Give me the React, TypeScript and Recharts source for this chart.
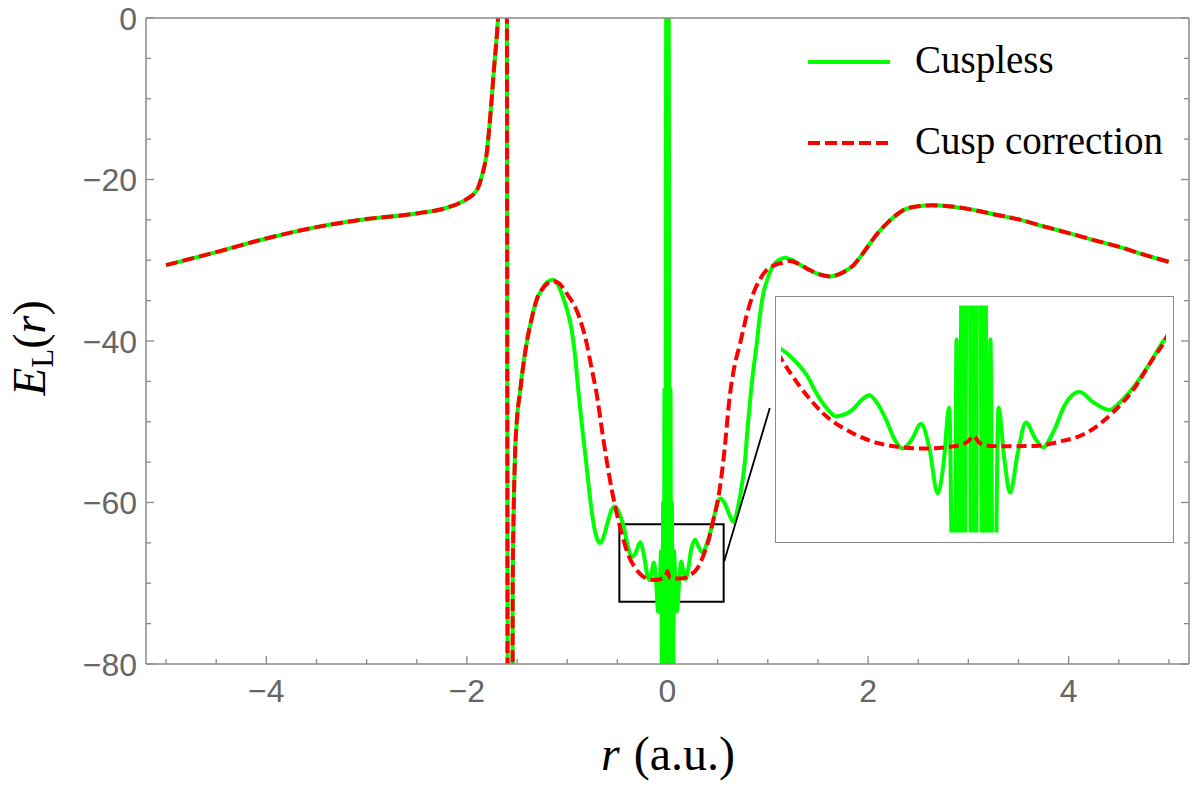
import React from 'react';
import { LineChart, Line, XAxis, YAxis, ReferenceArea, ReferenceLine } from 'recharts';

// Shared left branch (both curves coincide), r in a.u., E_L in hartree
const leftR = [-5.0, -4.5, -4.0, -3.5, -3.0, -2.5, -2.2, -2.0, -1.9, -1.85, -1.8, -1.77, -1.73, -1.69, -1.67];
const leftE = [-30.6, -29.0, -27.3, -25.9, -24.9, -24.2, -23.5, -22.4, -21.3, -19.5, -16.5, -12.6, -6.3, 0, 5];

// Steep branch between the two nodes of the wavefunction
const poleR = [-1.602, -1.594];
const poleE = [5, -85];

// Rise out of the second node, still shared
const riseR = [-1.546, -1.543, -1.535, -1.522, -1.5, -1.472, -1.44, -1.405, -1.35, -1.305, -1.25];
const riseE = [-90, -70, -62, -54.8, -49.5, -46.5, -43.2, -40.3, -37.0, -34.9, -33.6];

// Cuspless trial function: oscillating local energy near the nucleus
const cusplessR = [
  -1.2, -1.14, -1.09, -1.05, -1.0, -0.956, -0.92, -0.89, -0.85, -0.813, -0.78, -0.75, -0.71, -0.674,
  -0.64, -0.6, -0.56, -0.524, -0.5, -0.461, -0.43, -0.409, -0.38, -0.357, -0.335, -0.314, -0.29,
  -0.271, -0.25, -0.227, -0.205, -0.184, -0.16, -0.136, -0.115, -0.093, -0.078, -0.063,
  -0.05, -0.044, -0.037, -0.03, -0.024, -0.018, -0.012, -0.006, 0.0, 0.006, 0.012, 0.018,
  0.024, 0.03, 0.037, 0.044, 0.052,
  0.065, 0.08, 0.095, 0.115, 0.136, 0.16, 0.181, 0.205, 0.24, 0.275, 0.31, 0.353, 0.387, 0.42,
  0.46, 0.5, 0.53, 0.57, 0.62, 0.657, 0.69, 0.72, 0.773, 0.8, 0.83, 0.86, 0.89, 0.92, 0.956,
  1.0, 1.056, 1.11, 1.17, 1.23, 1.3,
];
const cusplessE = [
  -32.7, -32.4, -33.1, -34.3, -36.2, -38.6, -42.0, -46.0, -50.8, -54.8, -58.6, -61.6, -64.2, -65.0,
  -64.4, -62.6, -61.0, -60.5, -60.85, -61.98, -63.3, -64.67, -66.1, -66.77, -66.6, -66.17, -65.3,
  -64.91, -65.6, -67.06, -68.8, -69.6, -68.8, -67.42, -69.5, -73.55, -71.0, -66.0,
  -95, -60, -95, -46, -95, -46, 5, -95, 5, -95, 5, -46,
  -95, -46, -95, -60, -95,
  -66.0, -70.5, -73.5, -70.0, -67.3, -68.7, -69.5, -68.3, -65.6, -64.6, -65.5, -66.2, -65.3, -64.0,
  -62.0, -59.9, -59.5, -60.1, -61.6, -62.4, -61.3, -59.5, -54.8, -50.6, -46.5, -43.2, -40.3, -37.0, -34.1,
  -32.2, -30.6, -30.0, -29.7, -29.9, -30.4,
];

// Cusp-corrected trial function
const correctionR = [
  -1.2, -1.15, -1.09, -1.0, -0.906, -0.85, -0.806, -0.76, -0.707, -0.65, -0.6, -0.55, -0.5,
  -0.452, -0.392, -0.314, -0.245, -0.184, -0.123, -0.063, -0.03, -0.015, 0.0, 0.015, 0.03,
  0.076, 0.162, 0.223, 0.292, 0.361, 0.422, 0.46, 0.5, 0.56, 0.624, 0.67, 0.724, 0.79, 0.856,
  0.92, 0.99, 1.07, 1.156, 1.22, 1.3,
];
const correctionE = [
  -32.9, -32.6, -32.8, -34.2, -36.2, -38.2, -40.3, -43.2, -46.5, -51.3, -55.3, -58.8, -61.68,
  -64.08, -66.46, -68.25, -69.15, -69.5, -69.6, -69.46, -69.25, -69.0, -68.5, -69.1, -69.35,
  -69.4, -69.37, -69.0, -68.25, -66.46, -64.08, -62.0, -59.9, -54.5, -46.5, -43.0, -40.3, -36.8, -34.1,
  -32.4, -31.2, -30.6, -30.3, -30.1, -30.4,
];

// Shared right branch
const rightR = [1.4, 1.5, 1.62, 1.75, 1.855, 1.94, 2.02, 2.1, 2.19, 2.27, 2.35, 2.5, 2.65, 2.8, 3.02, 3.25, 3.52, 3.75, 4.02, 4.25, 4.52, 4.75, 5.0];
const rightE = [-31.1, -31.7, -32.0, -31.5, -30.6, -29.3, -27.9, -26.6, -25.4, -24.5, -23.8, -23.3, -23.2, -23.3, -23.7, -24.3, -25.0, -25.8, -26.7, -27.5, -28.4, -29.3, -30.2];

// Axis ticks
const xMajor = [-4, -2, 0, 2, 4];
const xTicks = [-5, -4.5, -4, -3.5, -3, -2.5, -2, -1.5, -1, -0.5, 0, 0.5, 1, 1.5, 2, 2.5, 3, 3.5, 4, 4.5, 5];
const yMajor = [-80, -60, -40, -20, 0];
const yTicks = [-80, -75, -70, -65, -60, -55, -50, -45, -40, -35, -30, -25, -20, -15, -10, -5, 0];

// Zoom box and inset ranges
const boxR = [-0.48, 0.56];
const boxE = [-72.3, -62.7];
const insetR = [-0.5, 0.5];
const insetE = [-77, -57];
const connector = [
  { x: 0.565, y: -67.3 },
  { x: 1.02, y: -48.3 },
];

type Pt = { r: number; e: number };
const zip = (rs: number[], es: number[]): Pt[] => rs.map((r, i) => ({ r, e: es[i] }));

const cusplessData: Pt[] = [
  ...zip(leftR, leftE),
  ...zip(poleR, poleE),
  ...zip(riseR, riseE),
  ...zip(cusplessR, cusplessE),
  ...zip(rightR, rightE),
];
const correctionData: Pt[] = [
  ...zip(leftR, leftE),
  ...zip(poleR, poleE),
  ...zip(riseR, riseE),
  ...zip(correctionR, correctionE),
  ...zip(rightR, rightE),
];

const GREEN = '#00ff00';
const RED = '#ff0000';
const FRAME = '#8a8a8a';
const sans = '"Liberation Sans", Arial, sans-serif';
const serif = '"Liberation Serif", "Times New Roman", serif';

const fmt = (v: number) => (v < 0 ? `\u2212${-v}` : `${v}`);
const frameLine = { stroke: FRAME, strokeWidth: 1.5 };

type Side = 'bottom' | 'top' | 'left' | 'right';

// Frame tick: inward tick mark (long for major values), label only on bottom/left majors
const frameTick = (side: Side, majors: number[]) => (props: any) => {
  const { x, y, payload } = props;
  const v = payload.value as number;
  const major = majors.includes(v);
  const len = major ? 8 : 5;
  let x2 = x;
  let y2 = y;
  if (side === 'bottom') y2 = y - len;
  if (side === 'top') y2 = y + len;
  if (side === 'left') x2 = x + len;
  if (side === 'right') x2 = x - len;
  return (
    <g>
      <line x1={x} y1={y} x2={x2} y2={y2} stroke={FRAME} strokeWidth={1.3} />
      {major && side === 'bottom' && (
        <text x={x} y={y + 38} textAnchor="middle" fill="#666666" fontSize={32} fontFamily={sans}>{fmt(v)}</text>
      )}
      {major && side === 'left' && (
        <text x={x - 9} y={y + 11.5} textAnchor="end" fill="#666666" fontSize={32} fontFamily={sans}>{fmt(v)}</text>
      )}
    </g>
  );
};

export default function App() {
  return (
    <div style={{ position: 'absolute', left: 0, top: 0, width: 1200, height: 792, background: '#fff' }}>
      <LineChart width={1200} height={792} margin={{ top: 17, right: 10, bottom: 0, left: 0 }}>
        <XAxis xAxisId="b" type="number" dataKey="r" domain={[-5.2, 5.2]} allowDataOverflow ticks={xTicks}
          interval={0} tick={frameTick('bottom', xMajor)} tickLine={false} tickSize={0} tickMargin={0}
          height={128} axisLine={frameLine} />
        <XAxis xAxisId="t" orientation="top" type="number" domain={[-5.2, 5.2]} allowDataOverflow ticks={xTicks}
          interval={0} tick={frameTick('top', xMajor)} tickLine={false} tickSize={0} tickMargin={0}
          height={1} axisLine={frameLine} />
        <YAxis yAxisId="l" type="number" domain={[-80, 0]} allowDataOverflow ticks={yTicks}
          interval={0} tick={frameTick('left', yMajor)} tickLine={false} tickSize={0} tickMargin={0}
          width={146} axisLine={frameLine} />
        <YAxis yAxisId="r" orientation="right" type="number" domain={[-80, 0]} allowDataOverflow ticks={yTicks}
          interval={0} tick={frameTick('right', yMajor)} tickLine={false} tickSize={0} tickMargin={0}
          width={1} axisLine={frameLine} />

        <Line xAxisId="b" yAxisId="l" data={cusplessData} dataKey="e" type="monotone" stroke={GREEN}
          strokeWidth={4} dot={false} activeDot={false} isAnimationActive={false} />
        <Line xAxisId="b" yAxisId="l" data={correctionData} dataKey="e" type="monotone" stroke={RED}
          strokeWidth={4} strokeDasharray="12 5" dot={false} activeDot={false} isAnimationActive={false} />

        <ReferenceArea xAxisId="b" yAxisId="l" x1={boxR[0]} x2={boxR[1]} y1={boxE[0]} y2={boxE[1]}
          fill="none" fillOpacity={0} stroke="#000" strokeWidth={2} ifOverflow="visible" />
        <ReferenceLine xAxisId="b" yAxisId="l" segment={connector} stroke="#000" strokeWidth={1.8}
          ifOverflow="visible" />
      </LineChart>

      {/* inset: close-up of the region near the nucleus */}
      <div style={{ position: 'absolute', left: 775, top: 296, width: 399, height: 247, boxSizing: 'border-box',
        border: `1.5px solid ${FRAME}`, background: '#fff' }}>
        <LineChart width={396} height={244} margin={{ top: 8.5, right: 6, bottom: 8.5, left: 5 }}>
          <XAxis type="number" dataKey="r" domain={insetR} allowDataOverflow hide />
          <YAxis type="number" domain={insetE} allowDataOverflow hide />
          <Line data={cusplessData} dataKey="e" type="monotone" stroke={GREEN} strokeWidth={4}
            dot={false} activeDot={false} isAnimationActive={false} />
          <Line data={correctionData} dataKey="e" type="monotone" stroke={RED} strokeWidth={4}
            strokeDasharray="10 5" dot={false} activeDot={false} isAnimationActive={false} />
        </LineChart>
      </div>

      {/* axis titles and legend */}
      <svg width={1200} height={792} style={{ position: 'absolute', left: 0, top: 0, pointerEvents: 'none' }}>
        <text x={668} y={770} textAnchor="middle" fontFamily={serif} fontSize={48} fill="#000">
          <tspan fontStyle="italic">r</tspan>
          <tspan dx={14}>(a.u.)</tspan>
        </text>
        <text transform="translate(45, 348) rotate(-90)" textAnchor="middle" fontFamily={serif} fontSize={46} fill="#000">
          <tspan fontStyle="italic">E</tspan>
          <tspan fontSize={31} dy={8}>L</tspan>
          <tspan dy={-8}>(</tspan>
          <tspan fontStyle="italic">r</tspan>
          <tspan>)</tspan>
        </text>

        <line x1={808} y1={62} x2={890} y2={62} stroke={GREEN} strokeWidth={4} />
        <text x={915} y={73} fontFamily={serif} fontSize={39} fill="#000">Cuspless</text>
        <line x1={808} y1={143} x2={890} y2={143} stroke={RED} strokeWidth={4} strokeDasharray="12 5" />
        <text x={915} y={154} fontFamily={serif} fontSize={39} fill="#000">Cusp correction</text>
      </svg>
    </div>
  );
}
